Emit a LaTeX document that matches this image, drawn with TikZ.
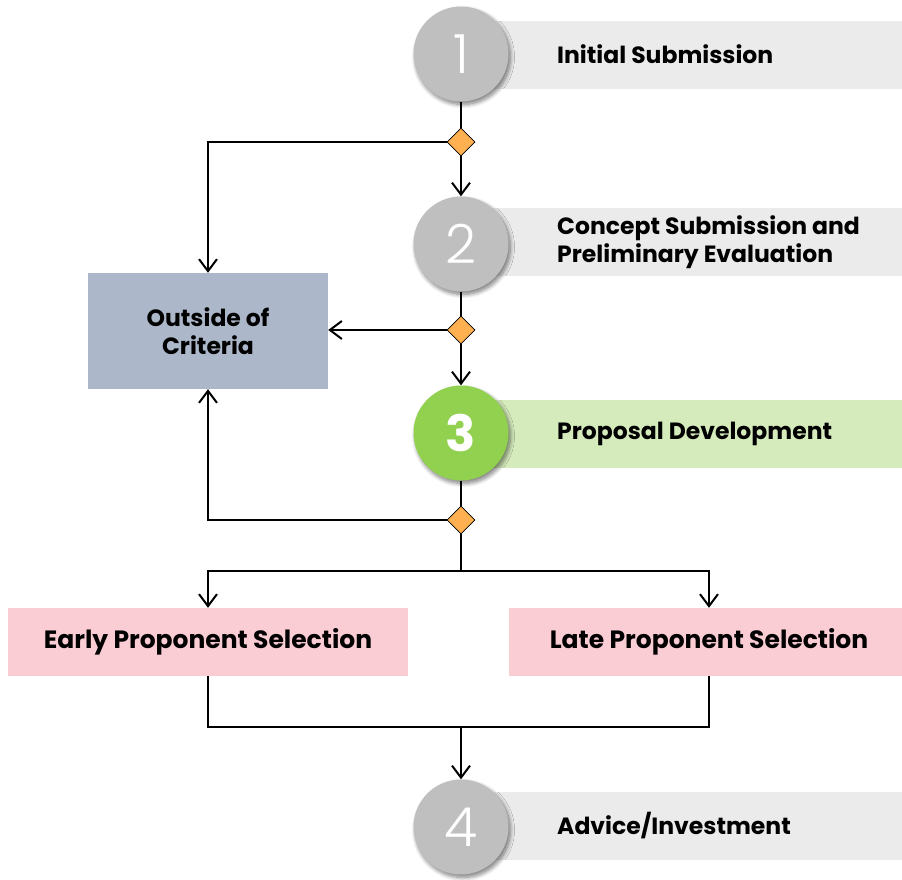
\documentclass[tikz,border=0pt]{standalone}
\usepackage{fontspec}
\setmainfont{Poppins}
\newfontfamily\numfont{Poppins Light}
\usetikzlibrary{arrows.meta,shapes.geometric,shadows.blur}
\definecolor{bandgray}{HTML}{EBEBEB}
\definecolor{bandgreen}{HTML}{D5EBBC}
\definecolor{circgray}{HTML}{BFBFBF}
\definecolor{circgreen}{HTML}{92D050}
\definecolor{boxblue}{HTML}{ACB7CA}
\definecolor{boxpink}{HTML}{FACCD4}
\definecolor{diaorange}{HTML}{FFB050}
\begin{document}
\begin{tikzpicture}[x=1pt,y=-1pt,
  band/.style={rectangle,anchor=west,minimum height=68pt,minimum width=441pt,inner sep=0pt},
  circ/.style={circle,minimum size=95pt,inner sep=0pt,text=white,
     blur shadow={shadow xshift=2pt,shadow yshift=-3pt,shadow blur steps=8,shadow blur radius=4pt,shadow opacity=50}},
  lbl/.style={anchor=west,font=\fontsize{23.5}{28}\selectfont\bfseries,align=left,inner sep=0pt},
  rbox/.style={rectangle,inner sep=0pt},
  dia/.style={diamond,draw=black,line width=0.8pt,fill=diaorange,minimum width=28pt,minimum height=28pt,inner sep=0pt},
  line/.style={draw=black,line width=2pt},
  arr/.style={line,-{Straight Barb[length=12pt,width=18pt,line width=2pt]}}
]
\useasboundingbox (0,0) rectangle (902,880);
% bands
\node[band,fill=bandgray] (b1) at (461,55) {};
\node[band,fill=bandgray] (b2) at (461,242) {};
\node[band,fill=bandgreen] (b3) at (461,434) {};
\node[band,fill=bandgray] (b4) at (461,826) {};
% labels
\node[lbl] (t1) at (557,54) {Initial Submission};
\node[lbl] (t2) at (557,242) {Concept Submission and\\Preliminary Evaluation};
\node[lbl] (t3) at (557,434) {Proposal Development};
\node[lbl] (t4) at (557,826) {Advice/Investment};
% circles
\node[circ,fill=circgray,font=\fontsize{54}{54}\selectfont\numfont] (c1) at (461,54) {1};
\node[circ,fill=circgray,font=\fontsize{54}{54}\selectfont\numfont] (c2) at (461,244) {2};
\node[circ,fill=circgreen,font=\fontsize{50}{50}\selectfont\bfseries] (c3) at (461,433) {3};
\node[circ,fill=circgray,font=\fontsize{54}{54}\selectfont\numfont] (c4) at (461,827) {4};
% boxes
\node[rbox,fill=boxblue,minimum width=240pt,minimum height=116pt,align=center,font=\fontsize{23.5}{28}\selectfont\bfseries] (oc) at (208,331) {Outside of\\Criteria};
\node[rbox,fill=boxpink,minimum width=400pt,minimum height=68pt] (ep) at (208,642) {};
\node[rbox,fill=boxpink,minimum width=400pt,minimum height=68pt] (lp) at (709,642) {};
\node[font=\fontsize{25}{28}\selectfont\bfseries,inner sep=0pt] (ept) at (208,642) {Early Proponent Selection};
\node[font=\fontsize{25}{28}\selectfont\bfseries,inner sep=0pt] (lpt) at (709,642) {Late Proponent Selection};
% diamonds
\node[dia] (d1) at (461,142) {};
\node[dia] (d2) at (461,330) {};
\node[dia] (d3) at (461,520) {};
\coordinate (split) at (461,571);
\coordinate (join) at (461,727);
% connectors
\draw[line] (c1) -- (d1);
\draw[arr] (d1) -- (c2);
\draw[arr] (d1.west) -| (oc.north);
\draw[line] (c2) -- (d2);
\draw[arr] (d2.west) -- (d2.west -| oc.east);
\draw[arr] (d2) -- (c3);
\draw[line] (c3) -- (d3);
\draw[arr] (d3.west) -| (oc.south);
\draw[line] (d3) -- (split);
\draw[arr] (split) -| (ep.north);
\draw[arr] (split) -| (lp.north);
\draw[line] (ep.south) |- (join);
\draw[line] (lp.south) |- (join);
\draw[arr] (join) -- (c4);
\end{tikzpicture}
\end{document}
